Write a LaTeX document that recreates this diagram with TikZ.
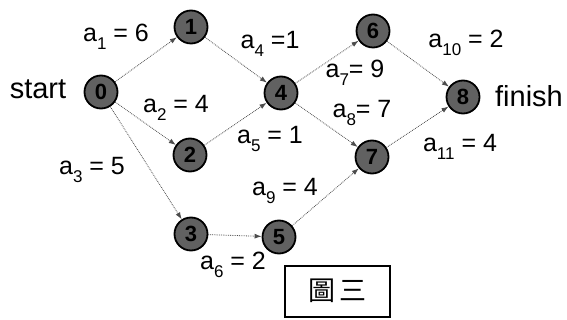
\documentclass[tikz,border=0pt]{standalone}
\usepackage{fontspec}
\setmainfont{Liberation Sans}
\newfontfamily\cjkfont{Noto Sans CJK TC}
\usetikzlibrary{arrows.meta}
\newcommand{\sbs}[1]{\raisebox{-0.32em}{\fontsize{17}{18}\selectfont #1}}
\tikzset{
  ev/.style={circle, draw=black, line width=1.8pt, fill=black!62, minimum size=33pt, inner sep=0pt, font=\fontsize{22}{22}\selectfont\bfseries, text=black},
  act/.style={line width=0.8pt, draw=black!70, densely dotted, -{Latex[length=7pt,width=5pt]}},
  lbl/.style={font=\fontsize{25}{26}\selectfont, inner sep=0pt}
}
\begin{document}
\begin{tikzpicture}[x=1pt,y=-1pt]
\useasboundingbox (0,0) rectangle (567,320);
\node[ev] (n0) at (101,92) {0};
\node[ev] (n1) at (191,27) {1};
\node[ev] (n2) at (190,155) {2};
\node[ev] (n3) at (191,234) {3};
\node[ev] (n4) at (281,93) {4};
\node[ev] (n5) at (279,237) {5};
\node[ev] (n6) at (373,31) {6};
\node[ev] (n7) at (372,157) {7};
\node[ev] (n8) at (463,97) {8};
\node[lbl, font=\fontsize{29}{30}\selectfont] (st) at (38,89) {start};
\node[lbl, font=\fontsize{29}{30}\selectfont] (fi) at (529,96) {finish};
\draw[act] (n0) -- (n1);
\draw[act] (n0) -- (n2);
\draw[act] (n0) -- (n3);
\draw[act] (n1) -- (n4);
\draw[act] (n2) -- (n4);
\draw[act] (n3) -- (n5);
\draw[act] (n4) -- (n6);
\draw[act] (n4) -- (n7);
\draw[act] (n5) -- (n7);
\draw[act] (n6) -- (n8);
\draw[act] (n7) -- (n8);
\node[lbl] (l1) at (116,37) {a\sbs{1} = 6};
\node[lbl] (l4) at (270,44) {a\sbs{4} =1};
\node[lbl] (l2) at (176,108) {a\sbs{2} = 4};
\node[lbl] (l3) at (92,170) {a\sbs{3} = 5};
\node[lbl] (l5) at (270,139) {a\sbs{5} = 1};
\node[lbl] (l7) at (355,73) {a\sbs{7}= 9};
\node[lbl] (l8) at (362,113) {a\sbs{8}= 7};
\node[lbl] (l10) at (466,43) {a\sbs{10} = 2};
\node[lbl] (l11) at (460,147) {a\sbs{11} = 4};
\node[lbl] (l9) at (285,191) {a\sbs{9} = 4};
\node[lbl] (l6) at (233,265) {a\sbs{6} = 2};
\node[draw=black, line width=2pt, minimum width=105pt, minimum height=51pt, inner sep=0pt, font=\cjkfont\fontsize{27}{28}\selectfont] (cap) at (337,291) {圖\hspace{4pt}三};
\end{tikzpicture}
\end{document}
